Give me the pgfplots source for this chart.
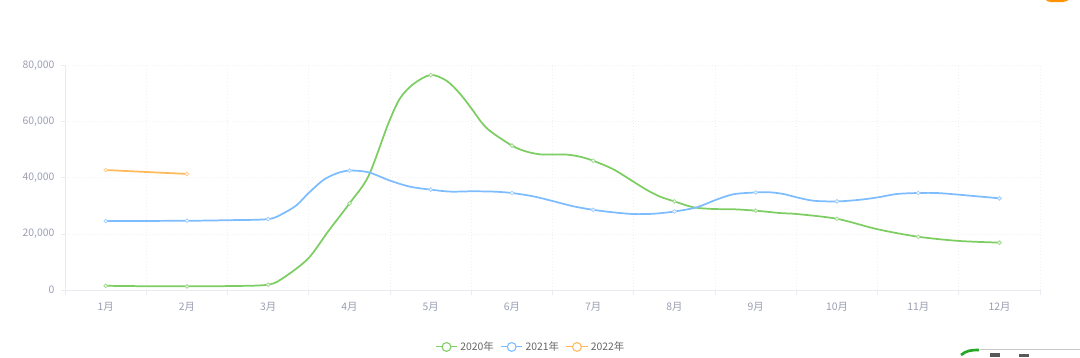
\documentclass[border=0pt]{standalone}
\usepackage{fontspec}
\setmainfont{Noto Sans CJK SC}
\usepackage{pgfplots}
\usepackage{pgfplotstable}
\pgfplotsset{compat=1.18}
\definecolor{cgreen}{HTML}{7CCD62}
\definecolor{cblue}{HTML}{7DBCFF}
\definecolor{corange}{HTML}{FFB85A}
\definecolor{caxis}{HTML}{E9EBF1}
\definecolor{cgrid}{HTML}{EFF0F4}
\definecolor{ctick}{HTML}{9A9EB2}
\definecolor{clegend}{HTML}{666666}
\pgfplotstableread{
x y
0 1500
0.5 1350
1 1300
1.5 1400
2 1900
2.207 4750
2.494 11300
2.740 21000
3 30900
3.233 40600
3.479 59450
3.623 68400
3.787 73500
4 76700
4.197 74600
4.361 70000
4.505 64600
4.690 57700
5 51500
5.182 49350
5.346 48400
5.498 48300
5.675 48300
5.838 47550
6 46100
6.248 43050
6.494 38650
6.659 35700
6.823 33300
7 31600
7.233 29500
7.479 28900
7.725 28800
8 28300
8.300 27450
8.506 27100
9 25400
9.503 21650
10 19000
10.5 17500
11 16900
}\greenline
\pgfplotstableread{
x y
0 24600
1 24700
1.5 24900
2 25300
2.186 27350
2.351 30300
2.494 34500
2.679 39250
2.843 41600
3 42600
3.233 42000
3.5 39000
3.746 36850
4 35800
4.238 35100
4.5 35200
4.771 35100
5 34600
5.264 33400
5.498 31750
5.756 29850
6 28600
6.248 27700
6.494 27100
6.74 27200
7 28000
7.275 29500
7.504 32100
7.725 34150
8 34800
8.177 34850
8.341 34250
8.506 33050
8.71 31850
9 31600
9.285 32200
9.503 33050
9.737 34250
10 34600
10.229 34600
10.5 34000
11 32700
}\blueline
\pgfplotstableread{
x y
0 1500
1 1300
2 1900
3 30900
4 76700
5 51500
6 46100
7 31600
8 28300
9 25400
10 19000
11 16900
}\greenpts
\pgfplotstableread{
x y
0 24600
1 24700
2 25300
3 42600
4 35800
5 34600
6 28600
7 28000
8 34800
9 31600
10 34600
11 32700
}\bluepts
\pgfplotstableread{
x y
0 42800
1 41400
}\orangepts
\pgfplotsset{
 lg/.style={legend image code/.code={
   \draw[#1,line width=0.8pt] (0,0) -- (16pt,0);
   \draw[#1,line width=0.8pt,fill=white] (8pt,0) circle (3.3pt);
 }},
 pts/.style={only marks,forget plot,mark=*,mark size=1.4pt,
   mark options={draw=#1!70!white,fill=white,line width=0.6pt}},
}
\begin{document}
\begin{tikzpicture}
\path[use as bounding box] (0,0) rectangle (810pt,267.75pt);
\begin{axis}[
  at={(48.825pt,50.25pt)},anchor=south west,
  scale only axis,width=731.25pt,height=168.2pt,
  xmin=-0.5,xmax=11.5,ymin=0,ymax=80000,
  axis x line*=bottom,axis y line*=left,
  axis line style={draw=caxis,line width=0.7pt,-},
  xtick={0,...,11},
  xticklabels={1月,2月,3月,4月,5月,6月,7月,8月,9月,10月,11月,12月},
  minor xtick={-0.5,0.5,...,11.5},
  ytick={0,20000,40000,60000,80000},
  major x tick style={draw=none},
  minor x tick style={draw=caxis,line width=0.6pt},
  major y tick style={draw=caxis,line width=0.6pt},
  minor tick length=3.75pt,major tick length=3pt,
  tick align=outside,
  xminorgrids=true,ymajorgrids=true,
  minor x grid style={draw=cgrid,dotted,line width=0.6pt},
  major y grid style={draw=cgrid,dotted,line width=0.6pt},
  /pgf/number format/assume math mode=true,
  /pgf/number format/1000 sep={,},
  scaled y ticks=false,
  tick label style={font=\fontsize{7.8}{9}\selectfont,text=ctick},
  xticklabel style={yshift=-2.4pt},
  yticklabel style={xshift=-1.5pt,yshift=0.2pt},
  legend columns=3,
  legend style={at={(0.478,-0.254)},anchor=center,draw=none,fill=none,
    font=\fontsize{7.8}{9}\selectfont,text=clegend,inner sep=0pt,
    /tikz/every even column/.append style={column sep=3pt}},
  clip=false,
]
\addplot[cgreen,line width=1.3pt,smooth,lg=cgreen] table[x=x,y=y]{\greenline};
\addlegendentry{2020年}
\addplot[cblue,line width=1.3pt,smooth,lg=cblue] table[x=x,y=y]{\blueline};
\addlegendentry{2021年}
\addplot[corange,line width=1.3pt,lg=corange] table[x=x,y=y]{\orangepts};
\addlegendentry{2022年}
\addplot[pts=cgreen] table[x=x,y=y]{\greenpts};
\addplot[pts=cblue] table[x=x,y=y]{\bluepts};
\addplot[pts=corange] table[x=x,y=y]{\orangepts};
\end{axis}
\begin{scope}[x=0.75pt,y=-0.75pt,shift={(0,267.75pt)}]
\clip (0,0) rectangle (1080,357);
\fill[orange!85!yellow] (1045,-1) -- (1069,-1) -- (1067,1) -- (1062,2.2) -- (1051,2.2) -- (1047,1) -- cycle;
\draw[black!22,line width=0.4pt] (980,349) -- (1080,349);
\fill[green!60!black!85] (1033,360) arc (180:0:17 and 12) -- cycle;
\draw[green!60!black!85,line width=2pt] (961,355) to[out=40,in=180] (979,350);
\fill[black!65] (990,353) rectangle (1000,357);
\fill[black!65] (1019,354) rectangle (1029,357);
\end{scope}
\end{tikzpicture}
\end{document}
